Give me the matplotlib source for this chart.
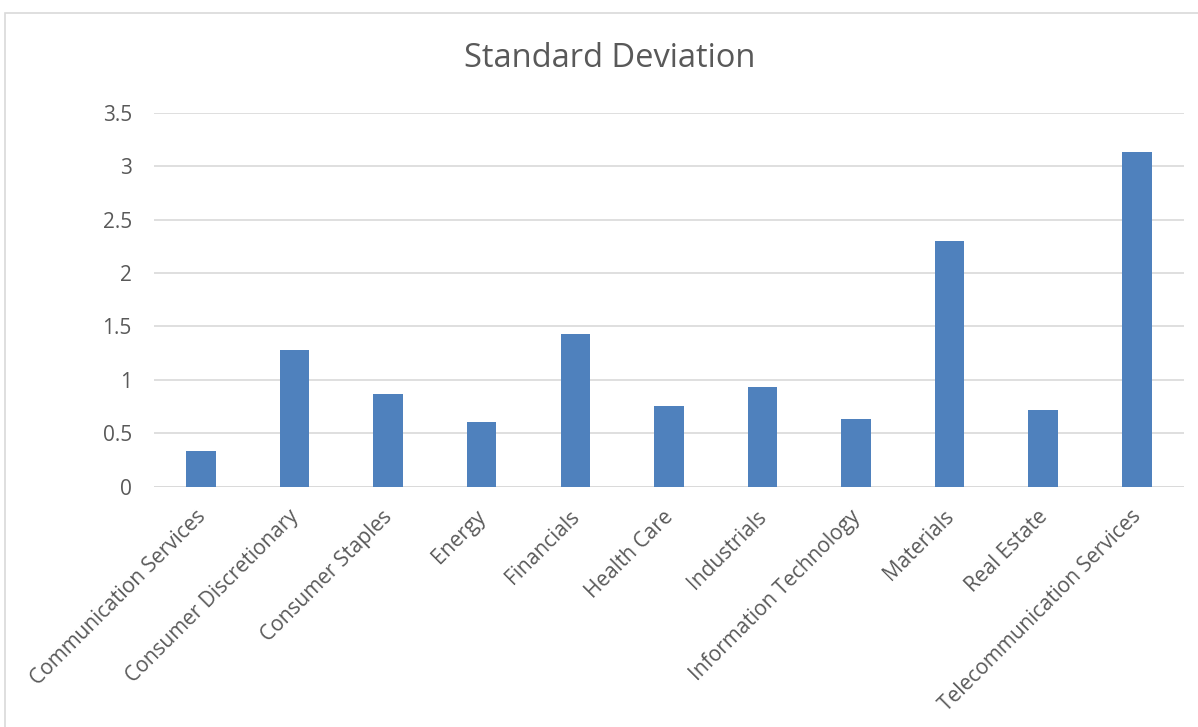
import matplotlib; matplotlib.use("Agg")
import matplotlib.pyplot as plt
import matplotlib.transforms as mtransforms
from matplotlib.patches import Rectangle

sectors = ["Communication Services", "Consumer Discretionary", "Consumer Staples", "Energy",
           "Financials", "Health Care", "Industrials", "Information Technology",
           "Materials", "Real Estate", "Telecommunication Services"]
std_dev = [0.334, 1.279, 0.868, 0.605, 1.426, 0.755, 0.930, 0.633, 2.296, 0.715, 3.132]

TXT = "#595959"
plt.rcParams["font.family"] = ["Open Sans", "DejaVu Sans"]

fig = plt.figure(figsize=(11.98, 7.27), dpi=100)
# chart-area border (right and bottom edges fall outside the image)
fig.patches.append(Rectangle((0.004, -0.01), 1.1, 0.992, transform=fig.transFigure,
                             fill=False, ec="#d9d9d9", lw=1.2))

ax = fig.add_axes([0.1286, 0.3305, 0.8594, 0.5145])
x = range(len(sectors))
ax.bar(x, std_dev, width=0.315, color="#4f81bd", zorder=3)
ax.set_xlim(-0.5, len(sectors) - 0.5)
ax.set_ylim(0, 3.5)
ax.set_yticks([0, 0.5, 1, 1.5, 2, 2.5, 3, 3.5])
ax.set_yticklabels(["0", "0.5", "1", "1.5", "2", "2.5", "3", "3.5"])
ax.yaxis.grid(True, color="#d9d9d9", lw=1.2, zorder=0)
ax.set_xticks(list(x))
ax.set_xticklabels(sectors, rotation=45, ha="right", rotation_mode="anchor")
for s in ax.spines.values():
    s.set_visible(False)
ax.axhline(0, color="#d9d9d9", lw=1.2, zorder=2)
ax.tick_params(length=0, labelsize=15, labelcolor=TXT)
ax.tick_params(axis="y", labelsize=15, pad=16)
ax.tick_params(axis="x", pad=14)
shift = mtransforms.ScaledTranslation(-6 / 100, 0, fig.dpi_scale_trans)
for lab in ax.get_xticklabels():
    lab.set_transform(lab.get_transform() + shift)

fig.text(0.509, 0.92, "Standard Deviation", ha="center", va="center", fontsize=23.5, color=TXT)
fig.savefig("out.png", dpi=100)
